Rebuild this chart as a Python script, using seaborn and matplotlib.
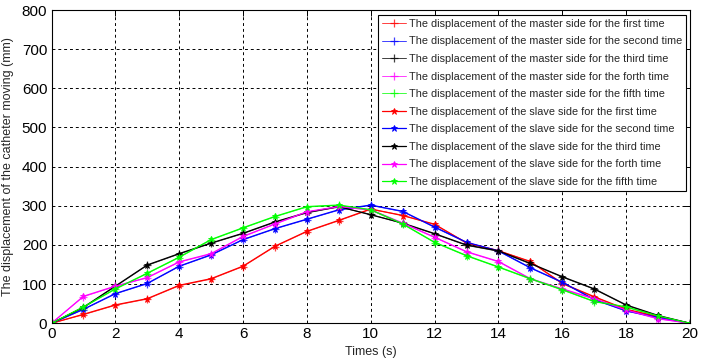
import matplotlib
matplotlib.use("Agg")
import matplotlib.pyplot as plt
import seaborn as sns
import numpy as np

times = list(range(0, 21))

slave_first  = [0, 23, 47, 63, 97, 114, 146, 197, 235, 263, 292, 275, 253, 205, 185, 158, 102, 68, 36, 17, 0]
slave_second = [0, 36, 76, 102, 146, 175, 214, 242, 266, 290, 302, 286, 246, 207, 185, 142, 105, 61, 32, 15, 0]
slave_third  = [0, 41, 95, 149, 178, 205, 230, 259, 283, 298, 277, 256, 229, 200, 185, 153, 119, 88, 47, 20, 0]
slave_forth  = [0, 69, 95, 117, 157, 178, 222, 254, 285, 298, 290, 256, 220, 183, 158, 114, 88, 63, 34, 12, 0]
slave_fifth  = [0, 42, 88, 128, 169, 214, 244, 273, 298, 302, 290, 254, 207, 173, 144, 114, 86, 56, 42, 19, 0]

master_first  = [0, 22, 46, 62, 96, 113, 145, 196, 234, 262, 291, 276, 252, 206, 186, 157, 101, 67, 35, 16, 0]
master_second = [0, 35, 75, 101, 145, 174, 213, 241, 265, 289, 301, 285, 245, 206, 184, 141, 104, 60, 31, 14, 0]
master_third  = [0, 40, 94, 148, 177, 204, 229, 258, 282, 297, 278, 255, 228, 199, 184, 152, 118, 87, 46, 19, 0]
master_forth  = [0, 68, 94, 116, 156, 177, 221, 253, 284, 297, 289, 255, 219, 182, 157, 113, 87, 62, 33, 11, 0]
master_fifth  = [0, 41, 87, 127, 168, 213, 243, 272, 297, 301, 289, 253, 206, 172, 143, 113, 85, 55, 41, 18, 0]

ordinals = ["first", "second", "third", "forth", "fifth"]
colors = ["#ff0000", "#0000ff", "#000000", "#ff00ff", "#00ff00"]
master = [master_first, master_second, master_third, master_forth, master_fifth]
slave = [slave_first, slave_second, slave_third, slave_forth, slave_fifth]

sns.set_style("white")
plt.rcParams['font.family'] = ['Liberation Sans', 'DejaVu Sans']

fig = plt.figure(figsize=(7.01, 3.58), dpi=100)
ax = fig.add_axes([51.5/701, 1 - 323.3/358, (690 - 51.5)/701, (323.3 - 10)/358])

for vals, c, o in zip(master, colors, ordinals):
    sns.lineplot(x=times, y=vals, color=c, marker="+", markersize=6, markeredgewidth=0.9,
                 markeredgecolor=c, markerfacecolor=c,
                 linewidth=0.7, alpha=0.75, ax=ax,
                 label=f"The displacement of the master side for the {o} time")
for vals, c, o in zip(slave, colors, ordinals):
    sns.lineplot(x=times, y=vals, color=c, marker="*", markersize=4.5, markeredgewidth=0.6,
                 markeredgecolor=c, markerfacecolor=c,
                 linewidth=0.9, ax=ax,
                 label=f"The displacement of the slave side for the {o} time")

ax.set_xlim(0, 20)
ax.set_ylim(0, 800)
ax.set_xticks(range(0, 21, 2))
ax.set_yticks(range(0, 801, 100))
ax.grid(True, color="black", linestyle=(0, (3, 3)), linewidth=0.7)
for s in ax.spines.values():
    s.set_color("black")
    s.set_linewidth(0.8)
    s.set_visible(True)
ax.tick_params(direction="in", top=True, right=True, length=4, width=0.7,
               labelsize=11, colors="black", pad=3)
ax.set_xlabel("Times (s)", fontsize=9, labelpad=3)
ax.set_ylabel("The displacement of the catheter moving (mm)", fontsize=9, labelpad=6)

leg = ax.legend(loc="upper right", bbox_to_anchor=(686/701, 1 - 15/358), bbox_transform=fig.transFigure,
                fontsize=7.8, frameon=True, fancybox=False, framealpha=1, edgecolor="black",
                handlelength=2.2, handletextpad=0.3, labelspacing=0.7, borderpad=0.35,
                borderaxespad=0)
leg.get_frame().set_linewidth(0.8)

fig.savefig("out.png", dpi=100)
